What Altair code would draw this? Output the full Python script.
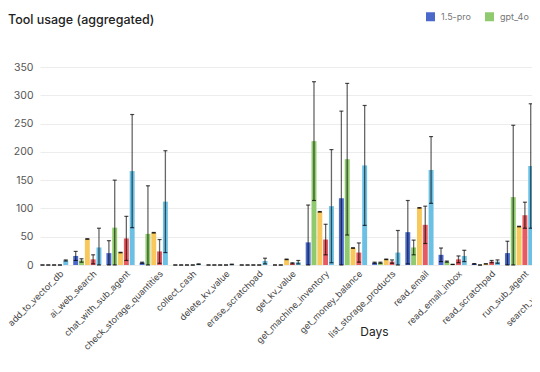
import altair as alt
import pandas as pd

# visible tools (x categories)
categories = [
    "add_to_vector_db", "ai_web_search", "chat_with_sub_agent",
    "check_storage_quantities", "collect_cash", "delete_kv_value",
    "erase_scratchpad", "get_kv_value", "get_machine_inventory",
    "get_money_balance", "list_storage_products", "read_email",
    "read_email_inbox", "read_scratchpad", "run_sub_agent",
]
# next tool, cut off at the right edge of the picture
more_categories = ["search_vector_db"]
all_categories = categories + more_categories

series = ["1.5-pro", "gpt_4o", "gpt_4o_mini", "sonnet_3.5", "haiku_3"]
colors = ["#4a69cb", "#8fca6e", "#f8c85c", "#e65a61", "#6cc0e4"]

pro_mean = [0, 16, 21, 4, 0, 0, 0, 0, 40, 118, 4, 58, 18, 2, 21]
pro_err = [0, 8, 22, 1, 0, 0, 0, 0, 66, 154, 1, 56, 12, 0.5, 21]
gpt4o_mean = [0, 8, 66, 55, 0, 0, 0, 0, 219, 187, 4, 31, 6, 0, 120]
gpt4o_err = [0, 3, 84, 85, 0, 0, 0, 0, 105, 134, 1, 13, 1, 0, 127]
s3_mean = [0, 46, 22, 57, 0, 0, 0, 10, 94, 30, 10, 101, 1, 2, 68]
s3_err = [0, 0.5, 0.5, 0.5, 0, 0, 0, 0.5, 0.5, 0.5, 0.5, 0.5, 0, 0, 0.5]
s4_mean = [0, 10, 47, 24, 0, 0, 0, 3, 45, 22, 6, 71, 10, 6, 88]
s4_err = [0, 8, 39, 21, 0, 0, 0, 1, 27, 17, 3, 33, 6, 2, 23]
s5_mean = [8, 31, 166, 112, 1.5, 1, 7, 5, 104, 176, 22, 168, 16, 6, 175]
s5_err = [1, 34, 100, 90, 0.5, 0.5, 5, 3, 100, 106, 39, 59, 10, 3, 110]

y_ticks = [0, 50, 100, 150, 200, 250, 300, 350]

means = [pro_mean, gpt4o_mean, s3_mean, s4_mean, s5_mean]
errs = [pro_err, gpt4o_err, s3_err, s4_err, s5_err]

rows = []
for s, m_list, e_list in zip(series, means, errs):
    for c, m, e in zip(categories, m_list, e_list):
        rows.append({"tool": c, "model": s, "mean": m, "err": e})
df = pd.DataFrame(rows)

FONT = "Inter"
STEP = 32.9

x_enc = alt.X(
    "tool:N",
    scale=alt.Scale(domain=all_categories, paddingInner=0.15, paddingOuter=0,
                    range=[0, STEP * len(all_categories)]),
    axis=alt.Axis(
        title="Days", labelAngle=-45, labelFontSize=9, labelColor="#444",
        labelFont=FONT, ticks=False, domain=False, labelPadding=4,
        labelOffset=5,
        titleFont=FONT, titleFontSize=12, titleFontWeight="normal",
        titleColor="#222", titleX=334, titleY=66, titleAlign="center",
        titleBaseline="middle", titleAnchor="middle",
    ),
)
xoff = alt.XOffset("model:N", scale=alt.Scale(domain=series, paddingInner=0.15))

y_scale = alt.Scale(domain=[0, 350])
y_axis = alt.Axis(
    title=None, values=y_ticks,
    labelFontSize=10.5, labelColor="#555", labelFont=FONT,
    ticks=False, domain=False, labelPadding=7, labelOverlap=False,
    gridColor="#ececec",
)

base = alt.Chart(df).encode(x=x_enc, xOffset=xoff)

bars = base.mark_bar().encode(
    y=alt.Y("mean:Q", scale=y_scale, axis=y_axis),
    color=alt.Color(
        "model:N",
        scale=alt.Scale(domain=series, range=colors),
        legend=alt.Legend(
            title=None, orient="none", direction="horizontal",
            legendX=386, legendY=-55, symbolType="square", symbolSize=81,
            symbolStrokeWidth=0, labelFontSize=9, labelColor="#777",
            labelFont=FONT, columnPadding=14, labelOffset=6, padding=0,
        ),
    ),
)

err_base = base.transform_calculate(
    lo="max(0, datum.mean - datum.err)", hi="datum.mean + datum.err"
)
rules = err_base.mark_rule(color="black", opacity=0.6, strokeWidth=1.3).encode(
    y=alt.Y("lo:Q", scale=y_scale, axis=y_axis), y2="hi:Q"
)
cap_lo = err_base.mark_tick(color="black", opacity=0.7, thickness=1.2, size=4).encode(
    y=alt.Y("lo:Q", scale=y_scale, axis=y_axis)
)
cap_hi = err_base.mark_tick(color="black", opacity=0.7, thickness=1.2, size=4).encode(
    y=alt.Y("hi:Q", scale=y_scale, axis=y_axis)
)

chart = (
    alt.layer(bars, rules, cap_lo, cap_hi)
    .properties(
        width=492, height=198,
        autosize=alt.AutoSizeParams(type="none"),
        padding={"left": 32, "top": 59, "right": 0, "bottom": 92},
        title=alt.TitleParams(
            "Tool usage (aggregated)", anchor="start", frame="group", dx=-32,
            fontSize=12.5, fontWeight=500, color="#222", font=FONT, offset=-14,
        ),
    )
    .configure_view(stroke=None)
)

chart.save("out.html", embed_options={"renderer": "svg", "actions": False})
